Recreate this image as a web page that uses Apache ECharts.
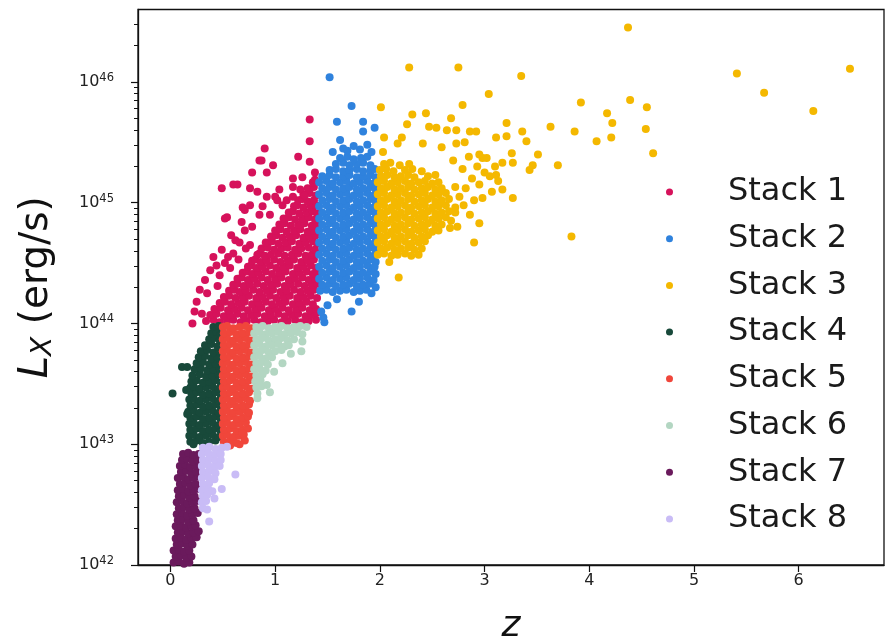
<!DOCTYPE html>
<html>
<head>
<meta charset="utf-8">
<title>Lx vs z</title>
<script src="https://cdn.jsdelivr.net/npm/echarts@6/dist/echarts.min.js"></script>
<style>
  html, body { margin: 0; padding: 0; background: #fff; }
  #chart { width: 887px; height: 643px; }
</style>
</head>
<body>
<div id="chart"></div>
<script>
// points are [z, log10(Lx in erg/s)]

const stack1 = [
  [0.34,44.02],[0.41,44.03],[0.47,44.01],[0.54,44.02],[0.60,44.03],[0.67,44.01],[0.73,44.02],[0.80,44.03],[0.86,44.01],[0.93,44.02],[0.99,44.03],[1.06,44.01],[1.12,44.02],[1.19,44.03],[1.25,44.01],[1.32,44.02],[1.39,44.03],
  [0.38,44.07],[0.44,44.08],[0.51,44.06],[0.57,44.07],[0.64,44.08],[0.70,44.06],[0.77,44.07],[0.83,44.08],[0.90,44.06],[0.96,44.07],[1.03,44.08],[1.09,44.06],[1.16,44.07],[1.22,44.08],[1.29,44.06],[1.35,44.07],[1.40,44.09],
  [0.42,44.12],[0.48,44.13],[0.55,44.11],[0.61,44.12],[0.68,44.13],[0.74,44.11],[0.81,44.12],[0.87,44.13],[0.94,44.11],[1.00,44.12],[1.07,44.13],[1.13,44.11],[1.20,44.12],[1.26,44.13],[1.33,44.11],[1.39,44.12],
  [0.47,44.17],[0.52,44.18],[0.58,44.16],[0.65,44.17],[0.71,44.18],[0.78,44.16],[0.84,44.17],[0.91,44.18],[0.97,44.16],[1.04,44.17],[1.10,44.18],[1.17,44.16],[1.23,44.17],[1.30,44.18],[1.36,44.16],
  [0.51,44.22],[0.56,44.23],[0.62,44.21],[0.69,44.22],[0.75,44.23],[0.82,44.21],[0.88,44.22],[0.95,44.23],[1.01,44.21],[1.08,44.22],[1.14,44.23],[1.21,44.21],[1.27,44.22],[1.34,44.23],[1.40,44.21],
  [0.56,44.27],[0.61,44.28],[0.66,44.26],[0.72,44.27],[0.79,44.28],[0.85,44.26],[0.92,44.27],[0.98,44.28],[1.05,44.26],[1.11,44.27],[1.18,44.28],[1.24,44.26],[1.31,44.27],[1.37,44.28],
  [0.60,44.32],[0.64,44.33],[0.70,44.31],[0.76,44.32],[0.83,44.33],[0.89,44.31],[0.96,44.32],[1.02,44.33],[1.09,44.31],[1.15,44.32],[1.22,44.33],[1.28,44.31],[1.35,44.32],[1.40,44.33],
  [0.64,44.37],[0.68,44.38],[0.74,44.36],[0.80,44.37],[0.87,44.38],[0.93,44.36],[1.00,44.37],[1.06,44.38],[1.13,44.36],[1.19,44.37],[1.26,44.38],[1.32,44.36],[1.38,44.37],
  [0.69,44.42],[0.73,44.43],[0.78,44.41],[0.84,44.42],[0.91,44.43],[0.97,44.41],[1.04,44.42],[1.10,44.43],[1.17,44.41],[1.23,44.42],[1.30,44.43],[1.36,44.41],[1.40,44.43],
  [0.74,44.47],[0.77,44.48],[0.82,44.46],[0.88,44.47],[0.95,44.48],[1.01,44.46],[1.08,44.47],[1.14,44.48],[1.21,44.46],[1.27,44.47],[1.34,44.48],[1.39,44.46],
  [0.78,44.52],[0.81,44.53],[0.86,44.51],[0.92,44.52],[0.99,44.53],[1.05,44.51],[1.12,44.52],[1.18,44.53],[1.25,44.51],[1.31,44.52],[1.37,44.53],
  [0.83,44.57],[0.85,44.58],[0.90,44.56],[0.96,44.57],[1.03,44.58],[1.09,44.56],[1.16,44.57],[1.22,44.58],[1.29,44.56],[1.35,44.57],[1.40,44.58],
  [0.87,44.62],[0.93,44.63],[0.99,44.61],[1.06,44.62],[1.12,44.63],[1.19,44.61],[1.25,44.62],[1.32,44.63],[1.38,44.61],
  [0.91,44.67],[0.97,44.68],[1.03,44.66],[1.10,44.67],[1.16,44.68],[1.23,44.66],[1.29,44.67],[1.36,44.68],[1.40,44.66],
  [0.96,44.72],[1.01,44.73],[1.07,44.71],[1.14,44.72],[1.20,44.73],[1.27,44.71],[1.33,44.72],[1.39,44.73],
  [1.00,44.77],[1.05,44.78],[1.11,44.76],[1.18,44.77],[1.24,44.78],[1.31,44.76],[1.37,44.77],
  [1.04,44.82],[1.09,44.83],[1.15,44.81],[1.22,44.82],[1.28,44.83],[1.35,44.81],[1.40,44.82],
  [1.08,44.87],[1.13,44.88],[1.19,44.86],[1.26,44.87],[1.32,44.88],[1.38,44.86],
  [1.13,44.92],[1.17,44.93],[1.23,44.91],[1.30,44.92],[1.36,44.93],[1.40,44.91],
  [1.18,44.97],[1.21,44.98],[1.27,44.96],[1.34,44.97],[1.39,44.98],
  [1.22,45.02],[1.26,45.03],[1.31,45.01],[1.37,45.02],
  [1.27,45.07],[1.33,45.08],[1.39,45.06],
  [1.31,45.12],[1.37,45.13],
  // scattered edge of the cloud
  [0.21,44.00],[0.25,44.18],[0.23,44.10],[0.30,44.08],[0.35,44.25],[0.28,44.28],[0.33,44.36],[0.38,44.44],
  [0.41,44.55],[0.45,44.31],[0.47,44.40],[0.49,44.61],[0.52,44.87],[0.54,44.88],[0.55,44.55],[0.57,44.46],
  [0.62,44.69],[0.66,44.67],[0.52,44.50],[0.60,44.58],[0.49,45.12],[0.60,45.15],[0.64,45.15],[0.69,44.96],
  [0.71,44.77],[0.71,44.94],[0.76,44.98],[0.76,44.65],[0.78,45.25],[0.78,44.80],[0.76,45.12],[0.83,45.09],
  [0.85,44.90],[0.87,45.35],[0.90,45.45],[0.92,45.25],[0.92,45.05],[0.95,44.90],[0.98,45.31],[1.00,45.05],
  [1.02,45.02],[1.04,45.11],[1.07,44.98],[1.11,45.02],[1.17,45.13],[1.17,45.20],[1.17,45.05],[1.22,45.38],
  [1.24,45.11],[1.26,45.21],[1.28,45.06],[1.33,45.69],[1.33,45.51],[1.33,45.34],[1.36,45.17],[1.38,45.19],
  [1.38,45.25],[0.68,44.84],[0.88,44.97],[0.58,44.73],[0.44,44.48],[0.65,44.53],[0.72,44.62],[0.85,45.35]
];

const stack2 = [
  [1.43,44.27],[1.49,44.28],[1.55,44.26],[1.62,44.27],[1.68,44.28],[1.75,44.26],[1.81,44.27],[1.87,44.28],
  [1.45,44.32],[1.52,44.33],[1.58,44.31],[1.65,44.32],[1.71,44.33],[1.78,44.31],[1.84,44.32],[1.90,44.33],
  [1.42,44.37],[1.49,44.38],[1.55,44.36],[1.62,44.37],[1.68,44.38],[1.75,44.36],[1.81,44.37],[1.88,44.38],[1.94,44.36],
  [1.45,44.42],[1.52,44.43],[1.58,44.41],[1.65,44.42],[1.71,44.43],[1.78,44.41],[1.84,44.42],[1.91,44.43],[1.96,44.41],
  [1.42,44.47],[1.49,44.48],[1.55,44.46],[1.62,44.47],[1.68,44.48],[1.75,44.46],[1.81,44.47],[1.88,44.48],[1.94,44.46],
  [1.45,44.52],[1.52,44.53],[1.58,44.51],[1.65,44.52],[1.71,44.53],[1.78,44.51],[1.84,44.52],[1.91,44.53],[1.96,44.51],
  [1.42,44.57],[1.49,44.58],[1.55,44.56],[1.62,44.57],[1.68,44.58],[1.75,44.56],[1.81,44.57],[1.88,44.58],[1.94,44.56],
  [1.45,44.62],[1.52,44.63],[1.58,44.61],[1.65,44.62],[1.71,44.63],[1.78,44.61],[1.84,44.62],[1.91,44.63],[1.96,44.61],
  [1.42,44.67],[1.49,44.68],[1.55,44.66],[1.62,44.67],[1.68,44.68],[1.75,44.66],[1.81,44.67],[1.88,44.68],[1.94,44.66],
  [1.45,44.72],[1.52,44.73],[1.58,44.71],[1.65,44.72],[1.71,44.73],[1.78,44.71],[1.84,44.72],[1.91,44.73],[1.96,44.71],
  [1.42,44.77],[1.49,44.78],[1.55,44.76],[1.62,44.77],[1.68,44.78],[1.75,44.76],[1.81,44.77],[1.88,44.78],[1.94,44.76],
  [1.45,44.82],[1.52,44.83],[1.58,44.81],[1.65,44.82],[1.71,44.83],[1.78,44.81],[1.84,44.82],[1.91,44.83],[1.96,44.81],
  [1.42,44.87],[1.49,44.88],[1.55,44.86],[1.62,44.87],[1.68,44.88],[1.75,44.86],[1.81,44.87],[1.88,44.88],[1.94,44.86],
  [1.45,44.92],[1.52,44.93],[1.58,44.91],[1.65,44.92],[1.71,44.93],[1.78,44.91],[1.84,44.92],[1.91,44.93],[1.96,44.91],
  [1.42,44.97],[1.49,44.98],[1.55,44.96],[1.62,44.97],[1.68,44.98],[1.75,44.96],[1.81,44.97],[1.88,44.98],[1.94,44.96],
  [1.45,45.02],[1.52,45.03],[1.58,45.01],[1.65,45.02],[1.71,45.03],[1.78,45.01],[1.84,45.02],[1.91,45.03],[1.96,45.01],
  [1.42,45.07],[1.49,45.08],[1.55,45.06],[1.62,45.07],[1.68,45.08],[1.75,45.06],[1.81,45.07],[1.88,45.08],[1.94,45.06],
  [1.45,45.12],[1.52,45.13],[1.58,45.11],[1.65,45.12],[1.71,45.13],[1.78,45.11],[1.84,45.12],[1.91,45.13],[1.96,45.11],
  [1.42,45.17],[1.49,45.18],[1.55,45.16],[1.62,45.17],[1.68,45.18],[1.75,45.16],[1.81,45.17],[1.88,45.18],[1.94,45.16],
  [1.45,45.22],[1.52,45.23],[1.58,45.21],[1.65,45.22],[1.71,45.23],[1.78,45.21],[1.84,45.22],[1.91,45.23],[1.96,45.21],
  [1.52,45.27],[1.58,45.28],[1.65,45.26],[1.71,45.27],[1.78,45.28],[1.84,45.26],[1.91,45.27],[1.95,45.28],
  [1.58,45.32],[1.65,45.33],[1.71,45.31],[1.78,45.32],[1.84,45.33],[1.91,45.31],
  [1.62,45.37],[1.69,45.38],[1.75,45.36],[1.82,45.37],[1.88,45.38],
  // tails
  [1.47,44.01],[1.46,44.05],[1.44,44.10],[1.50,44.15],[1.73,44.10],[1.92,44.25],[1.96,44.30],[1.95,44.47],
  [1.59,44.20],[1.80,44.18],[1.52,46.04],[1.73,45.80],[1.59,45.67],[1.84,45.67],[1.84,45.59],[1.95,45.62],
  [1.62,45.52],[1.65,45.45],[1.81,45.44],[1.88,45.48],[1.55,45.42],[1.75,45.47],[1.92,45.42],[1.69,45.43]
];

const stack3 = [
  [1.98,44.57],[2.04,44.58],[2.11,44.56],[2.17,44.57],[2.24,44.58],[2.30,44.56],[2.37,44.57],
  [2.01,44.62],[2.07,44.63],[2.14,44.61],[2.20,44.62],[2.27,44.63],[2.33,44.61],[2.40,44.62],
  [1.98,44.67],[2.04,44.68],[2.11,44.66],[2.17,44.67],[2.24,44.68],[2.30,44.66],[2.37,44.67],[2.43,44.68],
  [2.01,44.72],[2.07,44.73],[2.14,44.71],[2.20,44.72],[2.27,44.73],[2.33,44.71],[2.40,44.72],[2.46,44.73],
  [1.98,44.77],[2.04,44.78],[2.11,44.76],[2.17,44.77],[2.24,44.78],[2.30,44.76],[2.37,44.77],[2.43,44.78],[2.50,44.76],[2.56,44.77],
  [2.01,44.82],[2.07,44.83],[2.14,44.81],[2.20,44.82],[2.27,44.83],[2.33,44.81],[2.40,44.82],[2.46,44.83],[2.53,44.81],[2.59,44.82],
  [1.98,44.87],[2.04,44.88],[2.11,44.86],[2.17,44.87],[2.24,44.88],[2.30,44.86],[2.37,44.87],[2.43,44.88],[2.50,44.86],[2.56,44.87],[2.63,44.88],
  [2.01,44.92],[2.07,44.93],[2.14,44.91],[2.20,44.92],[2.27,44.93],[2.33,44.91],[2.40,44.92],[2.46,44.93],[2.53,44.91],[2.59,44.92],[2.66,44.93],
  [1.98,44.97],[2.04,44.98],[2.11,44.96],[2.17,44.97],[2.24,44.98],[2.30,44.96],[2.37,44.97],[2.43,44.98],[2.50,44.96],[2.56,44.97],[2.63,44.98],[2.72,44.96],
  [2.01,45.02],[2.07,45.03],[2.14,45.01],[2.20,45.02],[2.27,45.03],[2.33,45.01],[2.40,45.02],[2.46,45.03],[2.53,45.01],[2.59,45.02],[2.66,45.03],
  [1.98,45.07],[2.04,45.08],[2.11,45.06],[2.17,45.07],[2.24,45.08],[2.30,45.06],[2.37,45.07],[2.43,45.08],[2.50,45.06],[2.56,45.07],[2.63,45.08],
  [2.01,45.12],[2.07,45.13],[2.14,45.11],[2.20,45.12],[2.27,45.13],[2.33,45.11],[2.40,45.12],[2.46,45.13],[2.53,45.11],[2.59,45.12],[2.72,45.13],
  [1.98,45.17],[2.04,45.18],[2.11,45.16],[2.17,45.17],[2.24,45.18],[2.30,45.16],[2.37,45.17],[2.43,45.18],[2.50,45.16],[2.56,45.17],
  [2.01,45.22],[2.07,45.23],[2.14,45.21],[2.20,45.22],[2.27,45.23],[2.33,45.21],[2.46,45.22],[2.53,45.23],
  [2.00,45.27],[2.06,45.28],[2.13,45.26],[2.24,45.27],[2.31,45.28],[2.40,45.26],
  [2.04,45.32],[2.10,45.33],[2.19,45.31],[2.28,45.32],
  // looser part to the right
  [2.76,45.05],[2.82,45.12],[2.88,45.20],[2.93,45.30],[2.79,45.28],[2.70,45.35],[2.85,45.38],[2.95,45.15],
  [2.72,44.92],[2.80,44.98],[2.90,45.02],[2.68,44.85],[2.74,44.80],[2.86,44.90],[3.00,45.25],[3.05,45.22],
  [3.10,45.30],[2.98,45.37],
  // outliers
  [2.28,46.12],[2.75,46.12],[3.35,46.05],[3.04,45.90],[2.01,45.79],[2.79,45.81],[2.31,45.73],[2.44,45.74],
  [2.26,45.65],[2.68,45.70],[3.21,45.66],[3.63,45.63],[2.47,45.63],[2.54,45.62],[2.64,45.60],[2.73,45.60],
  [2.86,45.59],[2.92,45.59],[3.36,45.59],[2.04,45.54],[2.21,45.54],[3.11,45.54],[3.21,45.55],[3.40,45.51],
  [2.17,45.49],[2.41,45.49],[2.59,45.46],[2.73,45.49],[2.81,45.50],[2.03,45.42],[3.51,45.40],[3.70,45.31],
  [2.95,45.40],[3.26,45.41],[3.02,45.37],[3.17,45.33],[3.27,45.33],[3.46,45.31],[3.43,45.27],[3.11,45.23],
  [3.13,45.18],[3.17,45.11],[3.07,45.09],[3.27,45.04],[2.98,45.04],[2.95,44.83],[2.90,44.67],[2.67,44.79],
  [2.09,44.51],[2.18,44.38],[3.92,45.83],[3.86,45.59],[4.07,45.51],[3.83,44.72],[4.37,46.45],[4.17,45.74],
  [4.22,45.66],[4.21,45.54],[4.39,45.85],[4.55,45.79],[4.54,45.61],[4.61,45.41],[5.41,46.07],[5.67,45.91],
  [6.14,45.76],[6.49,46.11]
];

const stack4 = [
  [0.19,43.02],[0.25,43.03],[0.31,43.01],[0.37,43.02],[0.43,43.03],
  [0.18,43.07],[0.22,43.08],[0.28,43.06],[0.34,43.07],[0.40,43.08],[0.46,43.06],
  [0.19,43.12],[0.25,43.13],[0.31,43.11],[0.37,43.12],[0.43,43.13],[0.48,43.11],
  [0.18,43.17],[0.22,43.18],[0.28,43.16],[0.34,43.17],[0.40,43.18],[0.46,43.16],
  [0.19,43.22],[0.25,43.23],[0.31,43.21],[0.37,43.22],[0.43,43.23],[0.48,43.21],
  [0.17,43.27],[0.22,43.28],[0.28,43.26],[0.34,43.27],[0.40,43.28],[0.46,43.26],
  [0.19,43.32],[0.25,43.33],[0.31,43.31],[0.37,43.32],[0.43,43.33],[0.48,43.31],
  [0.18,43.37],[0.22,43.38],[0.28,43.36],[0.34,43.37],[0.40,43.38],[0.46,43.36],
  [0.20,43.42],[0.25,43.43],[0.31,43.41],[0.37,43.42],[0.43,43.43],[0.48,43.41],
  [0.19,43.47],[0.22,43.48],[0.28,43.46],[0.34,43.47],[0.40,43.48],[0.46,43.46],
  [0.20,43.52],[0.25,43.53],[0.31,43.51],[0.37,43.52],[0.43,43.53],[0.48,43.51],
  [0.21,43.57],[0.28,43.58],[0.34,43.56],[0.40,43.57],[0.46,43.58],
  [0.23,43.62],[0.29,43.63],[0.35,43.61],[0.41,43.62],[0.47,43.63],
  [0.25,43.67],[0.31,43.68],[0.37,43.66],[0.43,43.67],[0.48,43.68],
  [0.27,43.72],[0.33,43.73],[0.39,43.71],[0.45,43.72],
  [0.29,43.77],[0.35,43.78],[0.41,43.76],[0.47,43.77],
  [0.33,43.82],[0.39,43.83],[0.45,43.81],
  [0.37,43.87],[0.42,43.88],[0.47,43.86],
  [0.39,43.92],[0.44,43.93],[0.48,43.91],
  [0.41,43.97],[0.46,43.98],
  [0.11,43.64],[0.16,43.64],[0.02,43.42],[0.15,43.45],[0.16,43.25],[0.22,43.00]
];

const stack5 = [
  [0.51,43.02],[0.57,43.03],[0.63,43.01],
  [0.50,43.07],[0.54,43.08],[0.60,43.06],[0.66,43.07],[0.70,43.08],
  [0.51,43.12],[0.57,43.13],[0.63,43.11],[0.69,43.12],[0.74,43.13],
  [0.50,43.17],[0.54,43.18],[0.60,43.16],[0.66,43.17],[0.72,43.18],
  [0.51,43.22],[0.57,43.23],[0.63,43.21],[0.69,43.22],[0.74,43.23],
  [0.50,43.27],[0.54,43.28],[0.60,43.26],[0.66,43.27],[0.72,43.28],[0.75,43.26],
  [0.51,43.32],[0.57,43.33],[0.63,43.31],[0.69,43.32],[0.75,43.33],
  [0.50,43.37],[0.54,43.38],[0.60,43.36],[0.66,43.37],[0.72,43.38],[0.76,43.36],
  [0.51,43.42],[0.57,43.43],[0.63,43.41],[0.69,43.42],[0.75,43.43],
  [0.50,43.47],[0.54,43.48],[0.60,43.46],[0.66,43.47],[0.72,43.48],[0.77,43.46],
  [0.51,43.52],[0.57,43.53],[0.63,43.51],[0.69,43.52],[0.75,43.53],
  [0.50,43.57],[0.54,43.58],[0.60,43.56],[0.66,43.57],[0.72,43.58],[0.77,43.56],
  [0.51,43.62],[0.57,43.63],[0.63,43.61],[0.69,43.62],[0.75,43.63],
  [0.50,43.67],[0.54,43.68],[0.60,43.66],[0.66,43.67],[0.72,43.68],[0.77,43.66],
  [0.51,43.72],[0.57,43.73],[0.63,43.71],[0.69,43.72],[0.75,43.73],
  [0.50,43.77],[0.54,43.78],[0.60,43.76],[0.66,43.77],[0.72,43.78],[0.77,43.76],
  [0.51,43.82],[0.57,43.83],[0.63,43.81],[0.69,43.82],[0.75,43.83],
  [0.50,43.87],[0.54,43.88],[0.60,43.86],[0.66,43.87],[0.72,43.88],[0.77,43.86],
  [0.51,43.92],[0.57,43.93],[0.63,43.91],[0.69,43.92],[0.75,43.93],
  [0.50,43.97],[0.54,43.98],[0.60,43.96],[0.66,43.97],[0.72,43.98],[0.77,43.96],
  [0.69,43.09],[0.71,43.03],[0.57,42.99],[0.66,43.00]
];

const stack6 = [
  [0.82,43.97],[0.88,43.98],[0.94,43.96],[1.00,43.97],[1.06,43.98],[1.12,43.96],[1.18,43.97],[1.24,43.98],[1.30,43.97],
  [0.80,43.92],[0.85,43.93],[0.91,43.91],[0.97,43.92],[1.03,43.93],[1.09,43.91],[1.15,43.92],[1.21,43.93],[1.26,43.91],
  [0.82,43.87],[0.88,43.88],[0.94,43.86],[1.00,43.87],[1.06,43.88],[1.12,43.86],[1.18,43.87],
  [0.80,43.82],[0.85,43.83],[0.91,43.81],[0.97,43.82],[1.03,43.83],[1.09,43.81],[1.13,43.82],
  [0.82,43.77],[0.88,43.78],[0.94,43.76],[1.00,43.77],[1.06,43.78],
  [0.80,43.72],[0.85,43.73],[0.91,43.71],[0.97,43.72],
  [0.82,43.67],[0.88,43.68],[0.93,43.66],
  [0.80,43.62],[0.85,43.63],[0.91,43.61],
  [0.82,43.57],[0.88,43.58],
  [0.81,43.52],[0.86,43.53],
  [0.82,43.47],[0.87,43.48],
  [0.83,43.42],[0.83,43.38],
  [1.26,43.85],[1.25,43.77],[1.07,43.67],[0.95,43.43],[0.92,43.49],[1.15,43.75],[0.99,43.60]
];

const stack7 = [
  [0.03,42.02],[0.08,42.03],[0.13,42.01],[0.18,42.02],
  [0.05,42.07],[0.10,42.08],[0.15,42.06],[0.20,42.07],
  [0.03,42.12],[0.08,42.13],[0.13,42.11],[0.18,42.12],
  [0.06,42.17],[0.11,42.18],[0.16,42.16],[0.21,42.17],
  [0.05,42.22],[0.10,42.23],[0.15,42.21],[0.20,42.22],[0.25,42.23],
  [0.07,42.27],[0.12,42.28],[0.17,42.26],[0.22,42.27],[0.27,42.28],
  [0.05,42.32],[0.10,42.33],[0.15,42.31],[0.20,42.32],[0.24,42.33],
  [0.07,42.37],[0.12,42.38],[0.17,42.36],[0.22,42.37],
  [0.06,42.42],[0.11,42.43],[0.16,42.41],[0.21,42.42],[0.26,42.43],
  [0.08,42.47],[0.13,42.48],[0.18,42.46],[0.23,42.47],
  [0.06,42.52],[0.11,42.53],[0.16,42.51],[0.21,42.52],[0.25,42.53],
  [0.08,42.57],[0.13,42.58],[0.18,42.56],[0.23,42.57],
  [0.07,42.62],[0.12,42.63],[0.17,42.61],[0.22,42.62],[0.27,42.63],
  [0.09,42.67],[0.14,42.68],[0.19,42.66],[0.24,42.67],
  [0.07,42.72],[0.12,42.73],[0.17,42.71],[0.22,42.72],[0.27,42.73],
  [0.10,42.77],[0.15,42.78],[0.20,42.76],[0.25,42.77],
  [0.09,42.82],[0.14,42.83],[0.19,42.81],[0.24,42.82],[0.28,42.83],
  [0.11,42.87],[0.16,42.88],[0.21,42.86],[0.26,42.87],
  [0.12,42.92],[0.17,42.93],[0.22,42.91],[0.27,42.92]
];

const stack8 = [
  [0.31,42.97],[0.37,42.98],[0.43,42.96],[0.49,42.97],[0.54,42.98],
  [0.30,42.92],[0.36,42.93],[0.42,42.91],[0.48,42.92],
  [0.31,42.87],[0.37,42.88],[0.43,42.86],[0.48,42.87],
  [0.30,42.82],[0.36,42.83],[0.42,42.81],[0.47,42.82],
  [0.31,42.77],[0.37,42.78],[0.43,42.76],
  [0.30,42.72],[0.36,42.73],[0.42,42.71],
  [0.31,42.67],[0.37,42.68],
  [0.30,42.62],[0.36,42.63],[0.40,42.61],
  [0.31,42.57],[0.35,42.58],
  [0.30,42.52],[0.34,42.53],
  [0.31,42.47],
  [0.35,42.46],[0.37,42.36],[0.42,42.55],[0.49,42.63],[0.62,42.75]
];

const stackNames = ['Stack 1', 'Stack 2', 'Stack 3', 'Stack 4', 'Stack 5', 'Stack 6', 'Stack 7', 'Stack 8'];
const stackColors = ['#d6125b', '#2f82dd', '#f4b800', '#18493a', '#f0463b', '#b3d6c2', '#6a1a5c', '#c9bcf6'];
const xTicks = [0, 1, 2, 3, 4, 5, 6];
const yTicks = [42, 43, 44, 45, 46];

const stacks = [stack1, stack2, stack3, stack4, stack5, stack6, stack7, stack8];

// minor ticks of the log axis, 2..9 inside each decade
const yMinor = [];
yTicks.forEach(d => {
  for (let k = 2; k <= 9; k++) yMinor.push(d + Math.log10(k));
});

const font = 'DejaVu Sans';
const ink = '#111';

const chart = echarts.init(document.getElementById('chart'));

chart.setOption({
  backgroundColor: '#fff',
  animation: false,
  textStyle: { fontFamily: font },
  grid: {
    left: 138,
    right: 3,
    top: 9.5,
    bottom: 78,
    show: true,
    borderColor: ink,
    borderWidth: 1.3,
    containLabel: false,
    outerBoundsMode: 'none'
  },
  legend: {
    orient: 'vertical',
    left: 661,
    top: 171,
    itemWidth: 107,
    itemHeight: 7,
    itemGap: 14.7,
    icon: 'circle',
    selectedMode: false,
    data: stackNames,
    textStyle: {
      fontFamily: font,
      fontSize: 32,
      lineHeight: 32,
      color: '#1a1a1a'
    }
  },
  xAxis: {
    type: 'value',
    min: -0.31,
    max: 6.815,
    splitLine: { show: false },
    axisLine: { show: true, onZero: false, lineStyle: { color: ink, width: 1.3 } },
    axisTick: { show: true, customValues: xTicks, length: 7, lineStyle: { color: ink, width: 1.2 } },
    axisLabel: { customValues: xTicks, fontSize: 16, color: '#222', margin: 8, fontFamily: font },
    name: 'z',
    nameLocation: 'middle',
    nameGap: 44,
    nameTextStyle: { fontFamily: font, fontSize: 36, fontStyle: 'italic', color: ink }
  },
  yAxis: [
    {
      type: 'value',
      min: 42,
      max: 46.6,
      position: 'left',
      splitLine: { show: false },
      axisLine: { show: true, onZero: false, lineStyle: { color: ink, width: 1.3 } },
      axisTick: { show: true, customValues: yTicks, length: 7, lineStyle: { color: ink, width: 1.2 } },
      axisLabel: {
        customValues: yTicks,
        margin: 24,
        formatter: v => '{b|10}{e|' + v + '}',
        rich: {
          b: { fontFamily: font, fontSize: 16, lineHeight: 20, color: '#222' },
          e: { fontFamily: font, fontSize: 11.5, lineHeight: 12, color: '#222', verticalAlign: 'top' }
        }
      },
      name: '{l|L}{s|X}{n| (erg/s)}',
      nameLocation: 'middle',
      nameRotate: 90,
      nameGap: 80,
      nameTextStyle: {
        fontFamily: font,
        fontSize: 39,
        color: ink,
        rich: {
          l: { fontFamily: font, fontSize: 40, fontStyle: 'italic', lineHeight: 42, color: ink },
          s: { fontFamily: font, fontSize: 28, fontStyle: 'italic', lineHeight: 17, verticalAlign: 'bottom', color: ink },
          n: { fontFamily: font, fontSize: 39, lineHeight: 42, color: ink }
        }
      }
    },
    {
      // minor ticks only
      type: 'value',
      min: 42,
      max: 46.6,
      position: 'left',
      offset: 0,
      splitLine: { show: false },
      axisLine: { show: false, onZero: false },
      axisTick: { show: true, customValues: yMinor, length: 4, lineStyle: { color: ink, width: 1 } },
      axisLabel: { show: false }
    }
  ],
  series: stacks.map((pts, i) => ({
    type: 'scatter',
    name: stackNames[i],
    data: pts,
    symbol: 'circle',
    symbolSize: 8,
    silent: true,
    itemStyle: { color: stackColors[i], opacity: 1 }
  }))
});
</script>
</body>
</html>
